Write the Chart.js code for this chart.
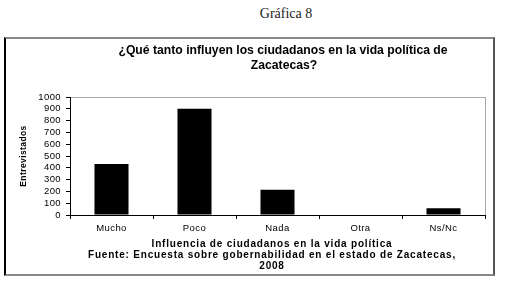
<!DOCTYPE html>
<html>
<head>
<meta charset="utf-8">
<script src="https://cdn.jsdelivr.net/npm/chart.js@4"></script>
<style>
  html, body { margin: 0; padding: 0; background: #fff; }
  body { width: 505px; height: 286px; position: relative; overflow: hidden; }
  #heading {
    position: absolute; left: 0; top: 6px; width: 572px; text-align: center;
    font-family: "Liberation Serif", "DejaVu Serif", serif; font-size: 14px; color: #222;
  }
  #frame {
    position: absolute; left: 4px; top: 37px; width: 487px; height: 235px;
    border-left: 2px solid #000; border-top: 2px solid #888;
    border-right: 2px solid #555; border-bottom: 2px solid #888;
  }
  #chart { position: absolute; left: 0; top: 0; }
</style>
</head>
<body>
<div id="heading">Gráfica 8</div>
<div id="frame"></div>
<canvas id="chart" width="505" height="286"></canvas>
<script>
const categories = ["Mucho", "Poco", "Nada", "Otra", "Ns/Nc"];
const interviewed = [432, 900, 214, 0, 58];
const yTicks = [0, 100, 200, 300, 400, 500, 600, 700, 800, 900, 1000];

const chartTitle = ["¿Qué tanto influyen los ciudadanos en la vida política de", "Zacatecas?"];
const xTitle = [
  "Influencia de ciudadanos en la vida política",
  "Fuente: Encuesta sobre gobernabilidad en el estado de Zacatecas,",
  "2008"
];

// light border on top and right of the plot area, slightly spaced tick text
const plotBorder = {
  id: "plotBorder",
  beforeDraw(chart) {
    const { ctx, chartArea } = chart;
    ctx.save();
    ctx.strokeStyle = "#aaa";
    ctx.lineWidth = 1;
    ctx.strokeRect(chartArea.left + 0.5, chartArea.top + 0.5,
      chartArea.right - chartArea.left, chartArea.bottom - chartArea.top);
    ctx.restore();
    ctx.letterSpacing = "0.4px";
  },
  afterDraw(chart) {
    chart.ctx.letterSpacing = "0px";
  }
};

// chart title and the axis title / source lines, drawn like the Excel original
const titles = {
  id: "titles",
  afterDraw(chart) {
    const ctx = chart.ctx;
    const fam = "'Liberation Sans', Arial, sans-serif";
    ctx.save();
    ctx.fillStyle = "#000";
    ctx.textAlign = "center";
    ctx.textBaseline = "middle";
    ctx.letterSpacing = "0px";
    ctx.font = "bold 12.2px " + fam;
    ctx.fillText(chartTitle[0], 283, 51);
    ctx.fillText(chartTitle[1], 284, 66);
    ctx.font = "bold 10px " + fam;
    ctx.letterSpacing = "0.8px";
    const ys = [244, 255, 266];
    xTitle.forEach((t, i) => ctx.fillText(t, 272, ys[i]));
    ctx.restore();
  }
};

Chart.defaults.font.family = "'Liberation Sans', Arial, sans-serif";
Chart.defaults.color = "#000";

new Chart(document.getElementById("chart"), {
  type: "bar",
  data: {
    labels: categories,
    datasets: [{
      label: "Entrevistados",
      data: interviewed,
      backgroundColor: "#000",
      borderWidth: 0,
      barPercentage: 0.41,
      categoryPercentage: 1
    }]
  },
  options: {
    responsive: false,
    animation: false,
    layout: { padding: { left: 19, right: 20, top: 97, bottom: 10 } },
    plugins: {
      legend: { display: false },
      tooltip: { enabled: false },
      title: { display: false }
    },
    scales: {
      x: {
        afterFit(scale) { scale.height = 61; },
        border: { color: "#000", width: 1 },
        grid: { display: true, drawOnChartArea: false, offset: true, tickLength: 4, color: "#000" },
        ticks: { font: { size: 9.5 }, padding: 4 }
      },
      y: {
        min: 0,
        max: 1000,
        afterFit(scale) { scale.width = 51; },
        afterBuildTicks(scale) { scale.ticks = yTicks.map(v => ({ value: v })); },
        border: { color: "#000", width: 1 },
        grid: { display: true, drawOnChartArea: false, tickLength: 4, color: "#000" },
        ticks: {
          autoSkip: false,
          font: { size: 9.5 },
          padding: 5,
          callback: v => String(v)
        },
        title: {
          display: true,
          text: "Entrevistados",
          font: { size: 8.5, weight: "bold" },
          padding: { top: 0, bottom: 6 }
        }
      }
    }
  },
  plugins: [plotBorder, titles]
});
</script>
</body>
</html>
